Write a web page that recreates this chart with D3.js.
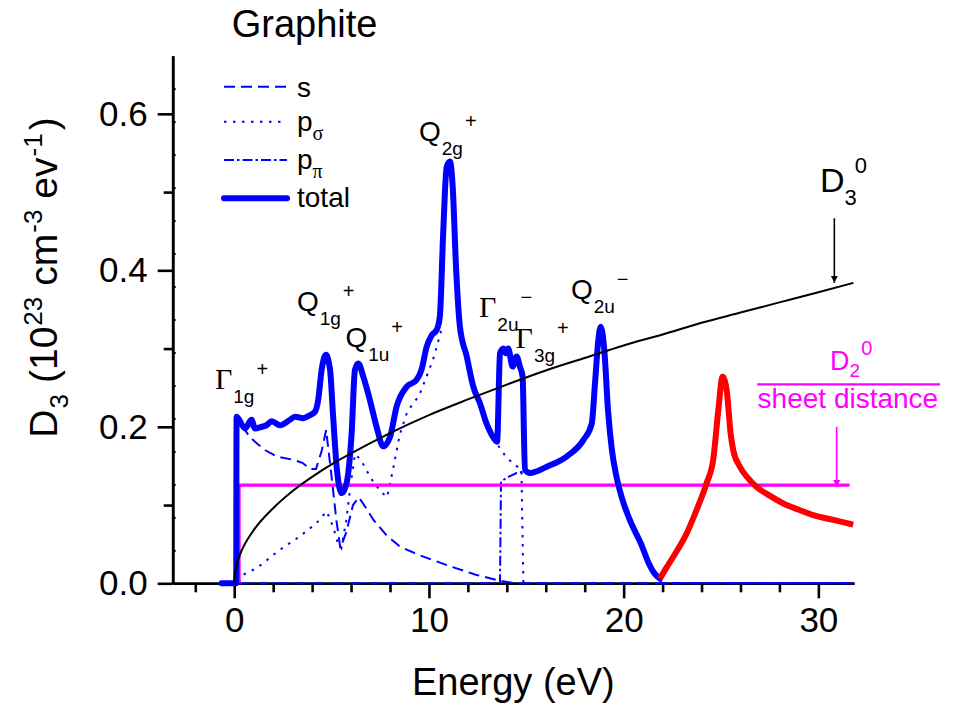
<!DOCTYPE html>
<html><head><meta charset="utf-8">
<script src="https://cdn.jsdelivr.net/npm/d3@7"></script>
<style>
body{margin:0;background:#fff;}
svg{display:block;}
text{font-family:"Liberation Sans",Arial,Helvetica,sans-serif;fill:#000;}
</style>
</head><body>
<svg id="c" width="956" height="707"></svg>
<script>
// ---------- data ----------
const totalX = [-0.65,0.1,0.12,0.55,0.89,1.06,1.4,1.66,1.92,2.35,2.86,3.12,3.54,3.89,4.14,4.31,4.49,4.71,4.92,5.08,5.26,5.52,5.77,6.03,6.2,6.37,6.63,6.97,7.31,7.65,8.0,8.34,8.85,9.37,9.62,9.88,10.14,10.4,10.56,10.73,10.91,11.08,11.22,11.39,11.59,11.94,12.28,12.62,12.96,13.22,13.5,13.65,13.82,13.95,14.07,14.3,14.5,14.67,14.81,14.93,15.19,16.05,17.07,17.93,18.36,18.53,18.7,18.82,19.0,19.2,19.4,19.6,19.9,20.3,20.9,21.3,21.6,21.86];
const totalY = [0,0,0.213,0.198,0.209,0.198,0.2,0.202,0.207,0.202,0.209,0.213,0.211,0.215,0.219,0.234,0.273,0.292,0.273,0.213,0.149,0.115,0.128,0.192,0.273,0.281,0.264,0.234,0.2,0.175,0.187,0.226,0.251,0.26,0.273,0.302,0.317,0.324,0.341,0.447,0.532,0.539,0.507,0.405,0.328,0.29,0.251,0.23,0.204,0.19,0.181,0.294,0.3,0.294,0.3,0.277,0.29,0.277,0.264,0.145,0.141,0.149,0.162,0.183,0.204,0.256,0.311,0.328,0.3,0.22,0.17,0.14,0.11,0.082,0.05,0.025,0.012,0.006];
const emptyX = [21.86,22.2,22.55,23.24,23.75,24.26,24.6,24.86,25.08,25.29,25.5,25.63,25.97,26.4,26.83,27.5,28.2,29.0,29.74,30.77,31.79];
const emptyY = [0.006,0.02,0.034,0.064,0.094,0.128,0.158,0.221,0.264,0.247,0.19,0.17,0.149,0.134,0.123,0.112,0.102,0.094,0.087,0.081,0.075];
const sX = [-0.65,0.1,0.15,0.5,0.8,1.2,1.6,2.2,3.0,3.5,3.9,4.2,4.5,4.72,5.0,5.25,5.45,5.75,6.1,6.4,6.8,7.15,7.8,8.5,9.5,10.5,11.3,12.4,13.5,14.2,14.5,31.8];
const sY = [0,0,0.21,0.198,0.187,0.178,0.17,0.162,0.158,0.154,0.146,0.146,0.17,0.196,0.136,0.08,0.045,0.065,0.1,0.11,0.095,0.081,0.062,0.047,0.036,0.027,0.02,0.011,0.004,0.001,0,0];
const pSigmaX = [-0.65,0.2,0.46,0.89,1.4,2.35,3.37,4.23,4.75,5.08,5.34,5.5,5.75,6.0,6.2,6.5,7.0,7.5,7.85,8.15,8.5,8.9,9.5,10.2,10.6,10.75,10.93,11.08,11.22,11.4,11.6,11.94,12.28,12.62,12.96,13.22,13.5,14.0,14.5,14.75,14.85,31.8];
const pSigmaY = [0,0,0.011,0.016,0.024,0.043,0.06,0.077,0.092,0.072,0.05,0.045,0.08,0.13,0.165,0.158,0.135,0.118,0.11,0.145,0.19,0.22,0.24,0.285,0.32,0.43,0.52,0.53,0.5,0.4,0.322,0.285,0.248,0.227,0.2,0.187,0.178,0.16,0.15,0.145,0,0];
const pPiX = [-0.65,13.65,13.7,14.0,14.5,14.93,15.19,16.05,17.07,17.93,18.36,18.53,18.7,18.82,19.0,19.2,19.4,19.6,19.9,20.3,20.9,21.3,21.6,21.86,21.95,31.8];
const pPiY = [0,0,0.13,0.135,0.141,0.143,0.141,0.149,0.162,0.183,0.204,0.256,0.311,0.328,0.3,0.22,0.17,0.14,0.11,0.082,0.05,0.025,0.012,0.006,0,0];
const d3freeX = [0,0.05,0.1,0.3,0.5,1,2,3,4,5,6,8,10,12,14,16,18,20,22,24,26,28,30,31.8];
const d3freeY = [0,0.015,0.021,0.037,0.048,0.068,0.096,0.118,0.136,0.152,0.166,0.192,0.215,0.235,0.254,0.272,0.288,0.304,0.318,0.333,0.346,0.359,0.372,0.384];
const d2sheetX = [0.25,0.25,31.6];
const d2sheetY = [0,0.1256,0.1256];
const xMajorTicks = [0,10,20,30];
const xMinorTicks = [-2,2,4,6,8,12,14,16,18,22,24,26,28];
const yMajorTicks = [0,0.2,0.4,0.6];
const yMinorTicks = [0.1,0.3,0.5];
const legendLabels = ["s","p","p","total"];
const legendSubs = ["","σ","π",""];

// ---------- scales ----------
const svg = d3.select("#c");
const x = d3.scaleLinear().domain([-3.16,31.83]).range([172.7,854]);
const y = d3.scaleLinear().domain([0,0.6743]).range([583.3,55.7]);
const zip = (a,b)=>a.map((v,i)=>[v,b[i]]);
const line = d3.line().x(d=>x(d[0])).y(d=>y(d[1]));
const lineS = d3.line().x(d=>x(d[0])).y(d=>y(d[1])).curve(d3.curveMonotoneX);

const blue="#0000ff", red="#ff0000", mag="#ff00ff";

// ---------- axes (drawn first, curves lie on top) ----------
const axW = 2.6;
function styleAxis(g){
  g.selectAll("path.domain").attr("stroke","#000").attr("stroke-width",axW);
  g.selectAll(".tick line").attr("stroke","#000").attr("stroke-width",axW);
}
const gx = svg.append("g").attr("transform",`translate(0,${y(0)})`);
gx.append("g").call(d3.axisBottom(x).tickValues(xMinorTicks).tickSize(9).tickSizeOuter(0).tickFormat(""))
  .call(styleAxis);
gx.append("g").call(d3.axisBottom(x).tickValues(xMajorTicks).tickSize(15).tickSizeOuter(0).tickPadding(9))
  .call(styleAxis).call(g=>g.selectAll("text").attr("font-size",35).attr("font-family","Liberation Sans, Arial, sans-serif"));

const gy = svg.append("g").attr("transform",`translate(${x(-3.16)},0)`);
gy.append("g").call(d3.axisLeft(y).tickValues(yMinorTicks).tickSize(9).tickSizeOuter(0).tickFormat(""))
  .call(styleAxis);
gy.append("g").call(d3.axisRight(y).tickValues(d3.range(1,16).map(i=>i*0.6743/16)).tickSize(3).tickSizeOuter(0).tickFormat(""))
  .call(g=>g.select("path.domain").remove())
  .call(g=>g.selectAll(".tick line").attr("stroke","#000").attr("stroke-width",2));
gy.append("g").call(d3.axisLeft(y).tickValues(yMajorTicks).tickSize(15).tickSizeOuter(0).tickPadding(10).tickFormat(d3.format(".1f")))
  .call(styleAxis).call(g=>g.selectAll("text").attr("font-size",35).attr("font-family","Liberation Sans, Arial, sans-serif"));

// ---------- curves ----------
const plot = svg.append("g");
const comps = [
  {d:zip(sX,sY), dash:"11,6"},
  {d:zip(pSigmaX,pSigmaY), dash:"2.5,6.5"},
  {d:zip(pPiX,pPiY), dash:"10,3,2.5,3"}
];
comps.forEach(c=>{
  plot.append("path").datum(c.d).attr("d",line).attr("fill","none")
    .attr("stroke",blue).attr("stroke-width",2).attr("stroke-dasharray",c.dash);
});
plot.append("path").datum(zip(d2sheetX,d2sheetY)).attr("d",line).attr("fill","none")
  .attr("stroke",mag).attr("stroke-width",3.2);
plot.append("path").datum(zip(totalX,totalY)).attr("d",lineS).attr("fill","none")
  .attr("stroke",blue).attr("stroke-width",6).attr("stroke-linejoin","round").attr("stroke-linecap","round");
plot.append("path").datum(zip(emptyX,emptyY)).attr("d",lineS).attr("fill","none")
  .attr("stroke",red).attr("stroke-width",6).attr("stroke-linejoin","round").attr("stroke-linecap","butt");
plot.append("path").datum(zip(d3freeX,d3freeY)).attr("d",lineS).attr("fill","none")
  .attr("stroke","#000").attr("stroke-width",2);

// axis titles
svg.append("text").attr("x",(x.range()[0]+x.range()[1])/2).attr("y",695)
  .attr("text-anchor","middle").attr("font-size",38).text("Energy (eV)");
const yt = svg.append("text").attr("transform",`translate(57,${(y.range()[0]+y.range()[1])/2-42}) rotate(-90)`)
  .attr("text-anchor","middle").attr("font-size",39);
yt.append("tspan").text("D");
yt.append("tspan").attr("font-size",26).attr("dy",11).attr("dx",1).text("3");
yt.append("tspan").attr("dy",-11).attr("dx",11).text("(10");
yt.append("tspan").attr("font-size",26).attr("dy",-15).attr("dx",1).text("23");
yt.append("tspan").attr("dy",15).attr("dx",11).text("cm");
yt.append("tspan").attr("font-size",26).attr("dy",-15).attr("dx",1).text("-3");
yt.append("tspan").attr("dy",15).attr("dx",11).text("ev");
yt.append("tspan").attr("font-size",26).attr("dy",-15).attr("dx",1).text("-1");
yt.append("tspan").attr("dy",15).attr("dx",3).text(")");

// title
svg.append("text").attr("x",x(-0.13)).attr("y",y(0.6985)).attr("font-size",38).text("Graphite");

// ---------- legend ----------
const legDash = ["11,6","2.5,6.5","10,3,2.5,3",null];
const legY = [86.7,121.7,160,198.3];
legendLabels.forEach((l,i)=>{
  const ln = svg.append("line").attr("x1",224).attr("x2",287).attr("y1",legY[i]).attr("y2",legY[i])
    .attr("stroke",blue).attr("stroke-width",i===3?6:2);
  if(legDash[i]) ln.attr("stroke-dasharray",legDash[i]);
  else ln.attr("stroke-linecap","round");
  const t = svg.append("text").attr("x",297).attr("y",legY[i]+(i===0?10:9)).attr("font-size",28).text(l);
  if(legendSubs[i]) t.append("tspan").attr("font-family","Liberation Serif, Times New Roman, serif")
    .attr("font-size",20).attr("dy",9).text(legendSubs[i]);
});

// ---------- peak labels ----------
function peak(xv,yv,main,sub,sup,greek){
  const t = svg.append("text").attr("x",x(xv)).attr("y",y(yv)).attr("font-size",28);
  t.append("tspan").attr("font-family",greek?"Liberation Serif, Times New Roman, serif":null)
    .attr("font-size",greek?30:28).text(main);
  t.append("tspan").attr("font-size",19).attr("dy",14).attr("dx",1).text(sub);
  t.append("tspan").attr("font-size",20).attr("dy",-27).attr("dx",2).text(sup);
}
peak(-0.99,0.248,"Γ","1g","+",true);
peak(3.22,0.348,"Q","1g","+",false);
peak(5.71,0.302,"Q","1u","+",false);
peak(9.49,0.565,"Q","2g","+",false);
peak(12.57,0.340,"Γ","2u","−",true);
peak(14.45,0.301,"Γ","3g","+",true);
peak(17.29,0.363,"Q","2u","−",false);

// ---------- D3^0 annotation ----------
const ta = svg.append("text").attr("x",x(30.08)).attr("y",y(0.5)).attr("font-size",34);
ta.append("tspan").text("D");
ta.append("tspan").attr("font-size",22).attr("dy",13).text("3");
ta.append("tspan").attr("font-size",22).attr("dy",-32).attr("dx",-2).text("0");
svg.append("defs").html(
 '<marker id="ab" viewBox="0 0 10 10" refX="10" refY="5" markerWidth="7" markerHeight="9" markerUnits="userSpaceOnUse" orient="auto"><path d="M0,0 L10,5 L0,10 z" fill="#000"/></marker>'+
 '<marker id="am" viewBox="0 0 10 10" refX="10" refY="5" markerWidth="7" markerHeight="9" markerUnits="userSpaceOnUse" orient="auto"><path d="M0,0 L10,5 L0,10 z" fill="#ff00ff"/></marker>');
svg.append("line").attr("x1",x(30.82)).attr("x2",x(30.82)).attr("y1",y(0.4665)).attr("y2",y(0.384))
  .attr("stroke","#000").attr("stroke-width",1.6).attr("marker-end","url(#ab)");

// ---------- D2^0 / sheet distance annotation ----------
const tm = svg.append("text").attr("x",x(30.6)).attr("y",y(0.272)).attr("font-size",27).style("fill",mag);
tm.append("tspan").text("D");
tm.append("tspan").attr("font-size",19).attr("dy",7).text("2");
tm.append("tspan").attr("font-size",20).attr("dy",-22).attr("dx",1).text("0");
svg.append("line").attr("x1",x(26.86)).attr("x2",940).attr("y1",y(0.2543)).attr("y2",y(0.2543))
  .attr("stroke",mag).attr("stroke-width",2.2);
svg.append("text").attr("x",x(26.88)).attr("y",y(0.2236)).attr("font-size",28).style("fill",mag).text("sheet distance");
svg.append("line").attr("x1",x(30.94)).attr("x2",x(30.94)).attr("y1",y(0.2)).attr("y2",y(0.1256)+2)
  .attr("stroke",mag).attr("stroke-width",1.6).attr("marker-end","url(#am)");
</script>
</body></html>
